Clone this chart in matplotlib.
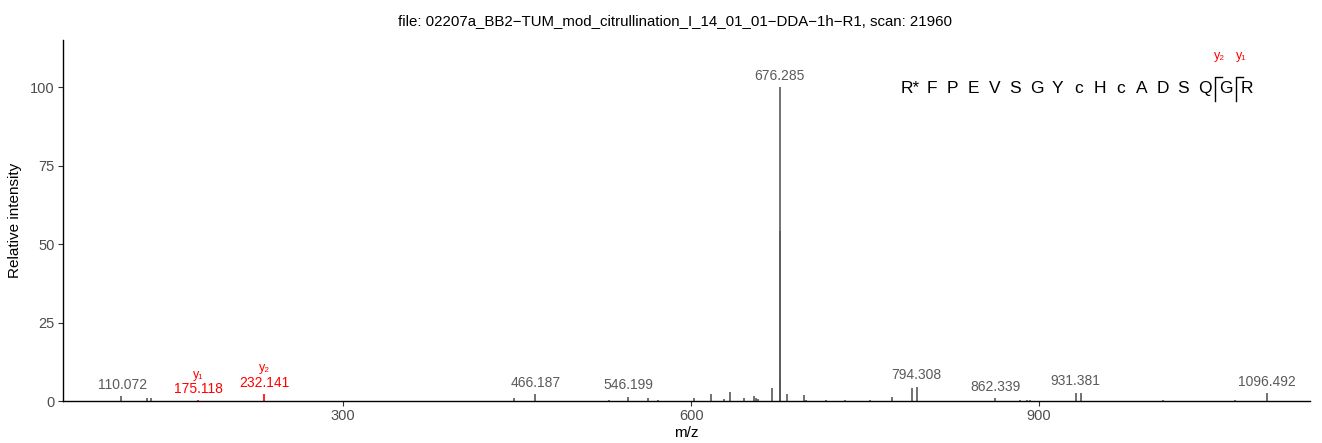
import matplotlib
matplotlib.use("Agg")
import matplotlib.pyplot as plt

plt.rcParams['font.family'] = ['Liberation Sans', 'DejaVu Sans']

# spectrum peaks (m/z, relative intensity)
mz = [108.6, 131.0, 134.5, 447.4, 465.5, 529.0, 545.7, 563.0,
      571.6, 602.6, 617.0, 628.4, 633.6, 645.7, 654.0, 656.0, 658.0, 670.0,
      676.285, 676.55, 676.8, 683.0, 697.4, 699.0, 716.0, 733.0, 754.0,
      773.0, 790.5, 794.308, 862.3, 883.6, 889.6, 892.0, 931.4, 936.0,
      1007.0, 1069.0, 1096.492]
intensity = [1.6, 0.8, 0.8, 1.0, 2.1, 0.3, 1.4, 1.0,
             0.3, 1.0, 2.1, 0.5, 3.0, 1.0, 1.6, 1.0, 0.5, 4.0,
             100.0, 54.0, 7.3, 2.2, 1.8, 0.3, 0.3, 0.2, 0.3,
             1.4, 4.3, 4.6, 1.0, 0.3, 0.3, 0.3, 2.7, 2.7,
             0.2, 0.2, 2.6]

# labelled grey peaks
lab_mz = [110.072, 466.187, 546.199, 676.285, 794.308, 862.339, 931.381, 1096.492]
lab_int = [1.6, 2.1, 1.4, 100.0, 4.6, 1.0, 2.7, 2.6]

# matched fragment ions (red)
ion_mz = [175.118, 232.141]
ion_int = [0.3, 2.3]
ion_names = ["y\u2081", "y\u2082"]

title = "file: 02207a_BB2\u2212TUM_mod_citrullination_I_14_01_01\u2212DDA\u22121h\u2212R1, scan: 21960"
sequence = ["R*", "F", "P", "E", "V", "S", "G", "Y", "c", "H", "c", "A", "D", "S", "Q", "G", "R"]
# y-ion cleavage sites (index of residue after the break) and names
cuts = [15, 16]
cut_names = ["y\u2082", "y\u2081"]

grey = "#5A5A5A"
red = "#FF0000"

fig = plt.figure(figsize=(13.22, 4.43), dpi=100)
ax = fig.add_axes([0.0477, 0.0948, 0.9433, 0.815])

ax.vlines(mz, 0, intensity, color=grey, lw=1.2)
ax.vlines(ion_mz, 0, ion_int, color=red, lw=1.2)

for x, y in zip(lab_mz, lab_int):
    ax.annotate(f"{x:.3f}", (x, y), xytext=(0, 3), textcoords="offset points",
                ha="center", va="bottom", fontsize=10, color=grey)

for x, y, n in zip(ion_mz, ion_int, ion_names):
    ax.annotate(f"{x:.3f}", (x, y), xytext=(0, 3), textcoords="offset points",
                ha="center", va="bottom", fontsize=10, color=red)
    ax.annotate(n, (x, y), xytext=(0, 14), textcoords="offset points",
                ha="center", va="bottom", fontsize=9, color=red)

# peptide sequence with fragment markers
seq_x0 = 0.6795   # axes fraction of first residue
seq_dx = 0.01684
seq_y = 0.865
for i, aa in enumerate(sequence):
    ax.text(seq_x0 + i * seq_dx, seq_y, aa, transform=ax.transAxes,
            ha="center", va="center", fontsize=12.5, color="black")
for c, n in zip(cuts, cut_names):
    xc = seq_x0 + (c - 0.5) * seq_dx
    ax.plot([xc, xc, xc + 0.0055], [0.83, 0.897, 0.897], transform=ax.transAxes,
            color="black", lw=1.0, clip_on=False)
    ax.text(xc + 0.004, 0.955, n, transform=ax.transAxes, ha="center",
            va="center", fontsize=9, color=red)

ax.set_xlim(58.6, 1133.6)
ax.set_ylim(0, 115)
ax.set_xticks([300, 600, 900])
ax.set_yticks([0, 25, 50, 75, 100])
ax.tick_params(colors="#333333", labelcolor="#4D4D4D", labelsize=10.5, length=3.5, width=0.8, pad=2.5)
for s in ["top", "right"]:
    ax.spines[s].set_visible(False)
for s in ["left", "bottom"]:
    ax.spines[s].set_linewidth(1.0)
ax.set_xlabel("m/z", fontsize=11, labelpad=2)
ax.set_ylabel("Relative intensity", fontsize=11, labelpad=6)
ax.set_title(title, fontsize=10.8, pad=11, x=0.491)

fig.savefig("out.png", dpi=100)
